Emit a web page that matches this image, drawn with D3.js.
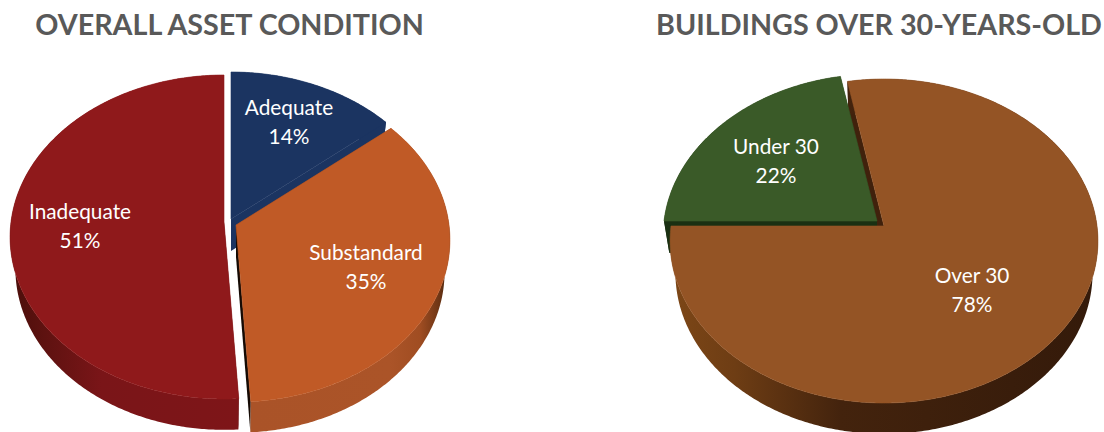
<!DOCTYPE html>
<html>
<head>
<meta charset="utf-8">
<title>Asset condition</title>
<script src="https://cdn.jsdelivr.net/npm/d3@7"></script>
<style>
  html, body { margin: 0; padding: 0; background: #fff; overflow: hidden; }
  svg { display: block; }
  text { font-family: Lato, "Open Sans", sans-serif; }
</style>
</head>
<body>
<svg id="chart" width="1104" height="432"></svg>
<script>
// Values
const conditionLabels = ['Adequate', 'Substandard', 'Inadequate'];
const conditionValues = [14, 35, 51];
const ageLabels = ['Over 30', 'Under 30'];
const ageValues = [78, 22];

const W = 1104, H = 432;
const RX = 213, RY = 160.6;   // radii of the tilted disc
const TILT = 0.0926;          // how much nearer the front rim looks
const DEPTH = 32;             // thickness of the pie
const SHRINK = 0.025;         // bottom face is further away, so a bit smaller
const svg = d3.select('#chart');
const defs = svg.append('defs');

// theta is clockwise from 12 o'clock, z = 0 top face, z = 1 bottom face
function project(apex, theta, r, z) {
  const s = 1 / (1 + TILT * r * Math.cos(theta));
  const far = 1 - SHRINK * z;
  return [
    apex[0] + RX * far * r * Math.sin(theta) * s,
    apex[1] - RY * far * r * Math.cos(theta) * s + DEPTH * z * s
  ];
}

const line = d3.line();

function rim(apex, a0, a1, z) {
  const n = Math.ceil(Math.abs(a1 - a0) / 0.01);
  return d3.range(n + 1).map(function (i) {
    return project(apex, a0 + (a1 - a0) * i / n, 1, z);
  });
}

function gradient(id, stops) {
  const g = defs.append('linearGradient').attr('id', id);
  stops.forEach(function (s) {
    g.append('stop').attr('offset', s[0]).attr('stop-color', s[1]);
  });
  return 'url(#' + id + ')';
}

function drawPie(cfg) {
  const arcs = d3.pie().sort(null).startAngle(cfg.start).endAngle(cfg.start + 2 * Math.PI)(cfg.values);
  const g = svg.append('g');

  const wall = function (i) {
    const d = arcs[i], st = cfg.styles[i], apex = st.apex;
    // cut faces first, then the round outer wall
    [[d.startAngle, st.cutStart], [d.endAngle, st.cutEnd]].forEach(function (c) {
      const top = [project(apex, 0, 0, 0), project(apex, c[0], 1, 0)];
      const bottom = [project(apex, c[0], 1, 1), project(apex, 0, 0, 1)];
      g.append('path')
        .attr('d', line(top.concat(bottom)) + 'Z')
        .attr('fill', c[1]);
    });
    const outer = rim(apex, d.startAngle, d.endAngle, 0)
      .concat(rim(apex, d.endAngle, d.startAngle, 1));
    g.append('path')
      .attr('d', line(outer) + 'Z')
      .attr('fill', st.wall.length ? gradient(cfg.id + i, st.wall) : st.cutEnd);
  };

  const face = function (i) {
    const d = arcs[i], st = cfg.styles[i];
    const pts = [project(st.apex, 0, 0, 0)].concat(rim(st.apex, d.startAngle, d.endAngle, 0));
    // thin stroke closes the antialiasing seam against the cut wall
    g.append('path')
      .attr('d', line(pts) + 'Z')
      .attr('fill', st.fill)
      .attr('stroke', st.fill)
      .attr('stroke-width', 0.6);
  };

  cfg.order.forEach(function (o) {
    if (o[1] === 'wall') wall(o[0]); else face(o[0]);
  });

  cfg.styles.forEach(function (st, i) {
    const t = g.append('text')
      .attr('text-anchor', 'middle')
      .attr('fill', '#fff')
      .style('font-size', '20.8px');
    t.append('tspan').attr('x', st.label[0]).attr('y', st.label[1]).text(cfg.labels[i]);
    t.append('tspan').attr('x', st.label[0]).attr('y', st.label[1] + 29).text(cfg.values[i] + '%');
  });

  svg.append('text')
    .attr('x', cfg.titleX)
    .attr('y', 35)
    .attr('text-anchor', 'middle')
    .attr('fill', '#595959')
    .style('font-size', '28.7px')
    .style('font-weight', 700)
    .text(cfg.title);
}

drawPie({
  id: 'cond',
  title: 'OVERALL ASSET CONDITION',
  titleX: 229.5,
  labels: conditionLabels,
  values: conditionValues,
  start: 0,
  order: [[0, 'wall'], [0, 'face'], [1, 'wall'], [1, 'face'], [2, 'wall'], [2, 'face']],
  styles: [
    { apex: [231, 219], fill: '#1b3461', cutStart: '#1b3461', cutEnd: '#1b3461', wall: [], label: [289, 115] },
    { apex: [236, 225], fill: '#c05a26', cutStart: '#5a2a10', cutEnd: '#150a04',
      wall: [[0, '#aa5328'], [0.7, '#ab5428'], [0.85, '#a04d22'], [0.95, '#6b3414'], [1, '#3f1f0c']],
      label: [366, 260] },
    { apex: [224, 222], fill: '#8f191b', cutStart: '#5a1010', cutEnd: '#5a1010',
      wall: [[0, '#4a0e0a'], [0.15, '#5e1210'], [0.4, '#7a1518'], [1, '#7e1518']],
      label: [80, 219] }
  ]
});

drawPie({
  id: 'age',
  title: 'BUILDINGS OVER 30-YEARS-OLD',
  titleX: 879,
  labels: ageLabels,
  values: ageValues,
  start: -10.8 * Math.PI / 180,
  order: [[0, 'wall'], [1, 'wall'], [1, 'face'], [0, 'face']],
  styles: [
    { apex: [884, 226], fill: '#945425', cutStart: '#40210c', cutEnd: '#40210c',
      wall: [[0, '#7d4717'], [0.15, '#6e3d14'], [0.4, '#43230d'], [1, '#341a0a']],
      label: [972, 283] },
    { apex: [877, 221], fill: '#3a5a28', cutStart: '#1a3012', cutEnd: '#1a3012', wall: [], label: [776, 154] }
  ]
});
</script>
</body>
</html>
